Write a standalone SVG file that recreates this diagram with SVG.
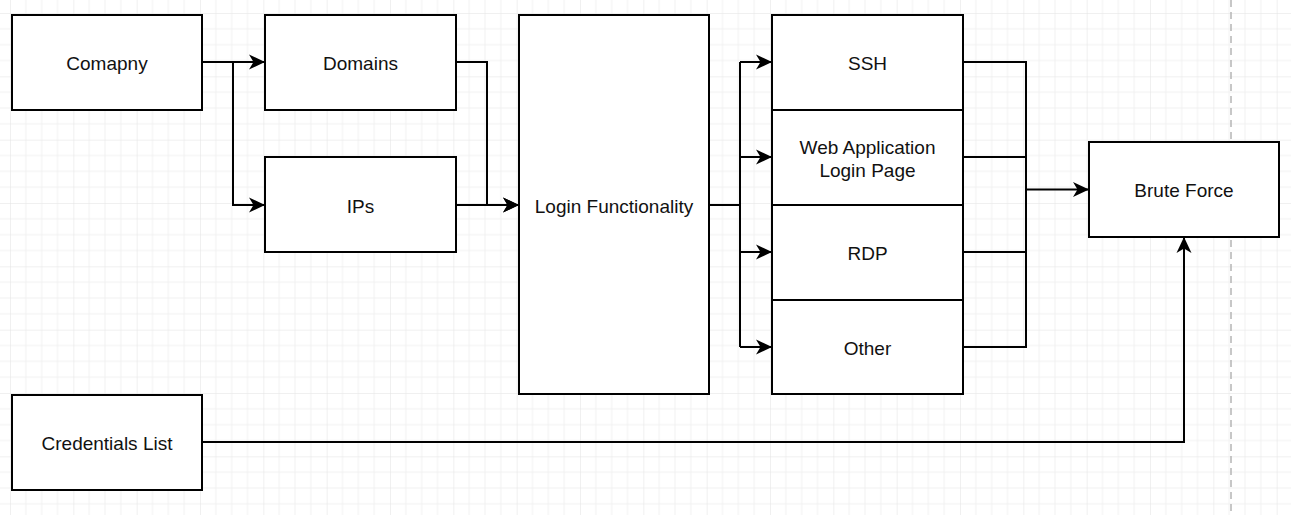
<svg xmlns="http://www.w3.org/2000/svg" width="1291" height="515" viewBox="0 0 1291 515">
<style>
.box{fill:#fff;stroke:#000;stroke-width:2}
.lbl{font-family:"Liberation Sans",Arial,sans-serif;font-size:19px;fill:#111;text-anchor:middle;dominant-baseline:central}
.edge{fill:none;stroke:#000;stroke-width:2}
.arr{marker-end:url(#ah)}
</style>
<defs>
<pattern id="grid" patternUnits="userSpaceOnUse" x="10" y="13" width="63.333" height="63.333">
<path d="M15.833 0V63.333M31.667 0V63.333M47.5 0V63.333M0 15.833H63.333M0 31.667H63.333M0 47.5H63.333" stroke="#f1f1f1" stroke-width="1" fill="none"/>
<path d="M0 0V63.333M0 0H63.333" stroke="#e2e2e2" stroke-width="1" fill="none"/>
</pattern>
<marker id="ah" markerUnits="userSpaceOnUse" markerWidth="20" markerHeight="20" viewBox="-18 -10 20 20" refX="0" refY="0" orient="auto">
<path d="M1 0L-15 -7.5L-10.5 0L-15 7.5Z" fill="#000"/>
</marker>
</defs>
<rect width="1291" height="515" fill="#fff"/>
<rect width="1291" height="515" fill="url(#grid)"/>
<line x1="1231" y1="0" x2="1231" y2="515" stroke="#b5b5b5" stroke-width="1.5" stroke-dasharray="7 5"/>
<g id="connectors">
<path class="edge arr" d="M202 62H264"/>
<path class="edge arr" d="M233 62V205H264"/>
<path class="edge arr" d="M456 62H487V205H518"/>
<path class="edge arr" d="M456 205H518"/>
<path class="edge" d="M709 205H740"/>
<path class="edge arr" d="M740 62H771"/>
<path class="edge arr" d="M740 157H771"/>
<path class="edge arr" d="M740 252H771"/>
<path class="edge arr" d="M740 347H771"/>
<path class="edge" d="M740 62V347"/>
<path class="edge" d="M963 62H1026V347H963M963 157H1026M963 252H1026"/>
<path class="edge arr" d="M1026 189.5H1088"/>
<path class="edge arr" d="M202 442H1184V238"/>
</g>
<g id="comapny"><rect class="box" x="12" y="15" width="190" height="95"/><text class="lbl" x="107" y="63">Comapny</text></g>
<g id="domains"><rect class="box" x="265" y="15" width="191" height="95"/><text class="lbl" x="360.5" y="63">Domains</text></g>
<g id="ips"><rect class="box" x="265" y="157" width="191" height="95"/><text class="lbl" x="360.5" y="206">IPs</text></g>
<g id="login"><rect class="box" x="519" y="15" width="190" height="379"/><text class="lbl" x="614" y="206">Login Functionality</text></g>
<g id="ssh"><rect class="box" x="772" y="15" width="191" height="95"/><text class="lbl" x="867.5" y="63">SSH</text></g>
<g id="webapp"><rect class="box" x="772" y="110" width="191" height="95"/><text class="lbl" x="867.5" y="147">Web Application</text><text class="lbl" x="867.5" y="170">Login Page</text></g>
<g id="rdp"><rect class="box" x="772" y="205" width="191" height="95"/><text class="lbl" x="867.5" y="253">RDP</text></g>
<g id="other"><rect class="box" x="772" y="300" width="191" height="94"/><text class="lbl" x="867.5" y="348">Other</text></g>
<g id="bruteforce"><rect class="box" x="1089" y="142" width="190" height="95"/><text class="lbl" x="1184" y="190">Brute Force</text></g>
<g id="credentials"><rect class="box" x="12" y="395" width="190" height="95"/><text class="lbl" x="107" y="443">Credentials List</text></g>
</svg>
